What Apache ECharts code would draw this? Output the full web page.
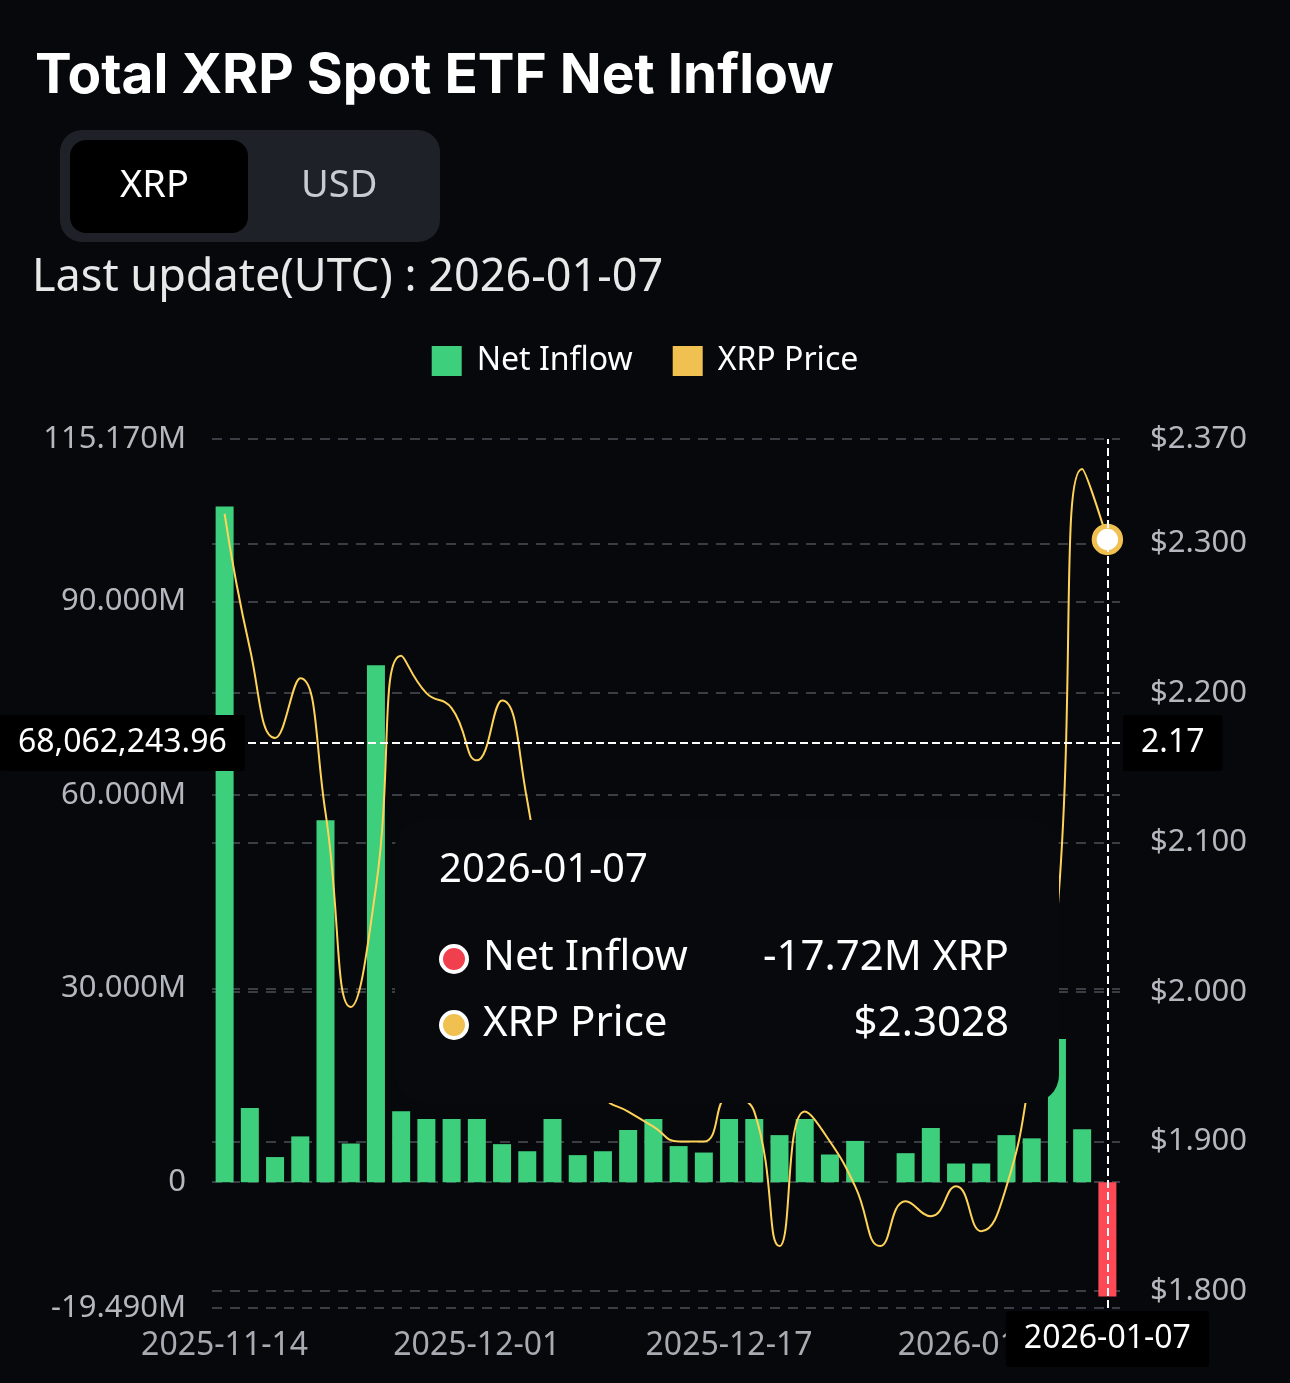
<!DOCTYPE html>
<html><head><meta charset="utf-8">
<script src="https://cdn.jsdelivr.net/npm/echarts@6/dist/echarts.min.js"></script>
<style>html,body{margin:0;padding:0;background:#06080c;}#c{width:1290px;height:1383px;}</style>
</head><body><div id="c"></div>
<script>
const dates = ['2025-11-14','2025-11-17','2025-11-18','2025-11-19','2025-11-20','2025-11-21','2025-11-24','2025-11-25','2025-11-26','2025-11-28',
'2025-12-01','2025-12-02','2025-12-03','2025-12-05','2025-12-08','2025-12-09','2025-12-11','2025-12-12','2025-12-15','2025-12-16',
'2025-12-17','2025-12-18','2025-12-19','2025-12-22','2025-12-23','2025-12-24','2025-12-26','2025-12-29','2025-12-30','2025-12-31',
'2026-01-02','2026-01-03','2026-01-04','2026-01-05','2026-01-06','2026-01-07'];
const netInflow = [104.7,11.5,3.9,7.1,56.1,6.0,80.1,11.0,9.8,9.8,
9.8,5.9,4.8,9.8,4.2,4.8,8.1,9.8,5.6,4.6,
9.8,9.8,7.3,9.8,4.3,6.4,0,4.5,8.4,2.9,
2.9,7.3,6.8,22.2,8.2,-17.72];
const xrpPrice = [2.32,2.23,2.17,2.21,2.12,1.99,2.07,2.225,2.20,2.19,
2.155,2.195,2.128,2.02,1.96,1.93,1.92,1.91,1.90,1.90,
1.93,1.92,1.83,1.92,1.90,1.87,1.83,1.86,1.85,1.87,
1.84,1.87,1.95,2.05,2.35,2.3028];
const leftTicks = [-19.49,0,30,60,90,115.17];
const rightTicks = [1.8,1.9,2.0,2.1,2.2,2.3,2.37];
const FONT = '"Noto Sans", sans-serif';
const chart = echarts.init(document.getElementById('c'));
chart.setOption({
  backgroundColor:'#06080c',
  animation:false,
  color:['#3ecf7c','#f0c050'],
  textStyle:{fontFamily:FONT},
  title:{text:'Total XRP Spot ETF Net Inflow',left:30,top:44,textStyle:{color:'#fff',fontSize:55,fontWeight:'bold',fontFamily:'Inter, sans-serif'}},
  graphic:[
    {type:'rect',left:60,top:130,shape:{width:380,height:112,r:22},style:{fill:'#1e2228'}},
    {type:'rect',left:70,top:140,shape:{width:178,height:93,r:16},style:{fill:'#000'}},
    {type:'text',left:120,top:167,style:{text:'XRP',fill:'#fff',font:'38px '+FONT}},
    {type:'text',left:301,top:167,style:{text:'USD',fill:'#c8ccd2',font:'38px '+FONT}},
    {type:'text',left:32,top:256,style:{text:'Last update(UTC) : 2026-01-07',fill:'#e8e8e8',font:'45px '+FONT}}
  ],
  legend:{top:340,left:'center',itemWidth:30,itemHeight:30,itemGap:40,textStyle:{color:'#fff',fontSize:32,padding:[0,0,0,10]},
    data:[{name:'Net Inflow',icon:'rect',itemStyle:{color:'#3ecf7c'}},{name:'XRP Price',icon:'rect',itemStyle:{color:'#f0c050',borderWidth:0}}]},
  grid:{left:212,right:170,top:439,bottom:75},
  tooltip:{trigger:'axis',alwaysShowContent:true,
    axisPointer:{type:'cross',lineStyle:{color:'#fff',type:'dashed',width:2},crossStyle:{color:'#fff',type:'dashed',width:2},
      label:{backgroundColor:'#000',color:'#fff',fontSize:32,padding:[12,18],
        formatter:function(p){ if(p.axisDimension==='x') return p.value;
          if(p.axisIndex===0) return (p.value*1e6).toLocaleString('en-US',{minimumFractionDigits:2,maximumFractionDigits:2});
          return p.value.toFixed(2);}}},
    position:[395,820],
    backgroundColor:'#07090d',borderWidth:0,padding:[36,50,50,44],extraCssText:'border-radius:28px;box-shadow:none;',
    formatter:function(ps){
      let s='<div style="font-size:40px;color:#fff;margin-bottom:44px;">'+ps[0].axisValue+'</div>';
      ps.forEach(p=>{
        const col=p.seriesIndex===0?'#f0404e':'#f0c050';
        const v=p.seriesIndex===0?(p.value.toFixed(2)+'M XRP'):('$'+p.value.toFixed(4));
        s+='<div style="display:flex;justify-content:space-between;width:570px;font-size:42px;color:#fff;line-height:66px;">'+
        '<span><span style="display:inline-block;width:22px;height:22px;border-radius:50%;background:'+col+';border:4px solid #fff;margin-right:14px;vertical-align:middle;"></span>'+p.seriesName+'</span><span>'+v+'</span></div>';
      });
      return s;}
  },
  xAxis:{type:'category',data:dates,axisTick:{show:false},axisLine:{show:false},
    axisLabel:{color:'#a8acb2',fontSize:32,interval:9,margin:22}},
  yAxis:[
    {type:'value',min:-19.49,max:115.17,axisLabel:{customValues:leftTicks,color:'#b4b8be',fontSize:31,margin:26,
      formatter:v=>v===0?'0':v.toFixed(3)+'M'},axisTick:{show:false,customValues:leftTicks},
      splitLine:{lineStyle:{color:'#3a3e44',type:[10,8],width:2}}},
    {type:'value',min:1.7886,max:2.37,axisLabel:{customValues:rightTicks,color:'#b4b8be',fontSize:31,margin:30,
      formatter:v=>'$'+v.toFixed(3)},axisTick:{show:false,customValues:rightTicks},
      splitLine:{lineStyle:{color:'#3a3e44',type:[10,8],width:2}}}
  ],
  series:[
    {name:'Net Inflow',type:'bar',yAxisIndex:0,data:netInflow,barWidth:18,
      itemStyle:{color:p=>p.value<0?'#f2444f':'#3ecf7c'}},
    {name:'XRP Price',type:'line',yAxisIndex:1,data:xrpPrice,smooth:true,showSymbol:false,symbolSize:24,
      lineStyle:{color:'#f0c050',width:2},itemStyle:{color:'#f0c050'},
      emphasis:{itemStyle:{color:'#fff',borderColor:'#f0c050',borderWidth:5}}}
  ]
});
chart.dispatchAction({type:'showTip',x:1112,y:743});
</script></body></html>
